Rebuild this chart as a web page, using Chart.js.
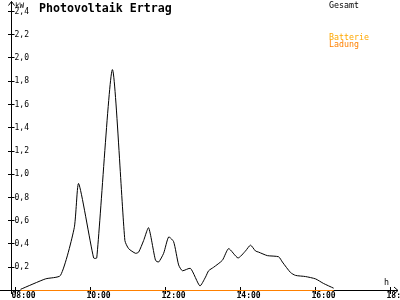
<!DOCTYPE html>
<html>
<head>
<meta charset="utf-8">
<script src="https://cdn.jsdelivr.net/npm/chart.js@4/dist/chart.umd.min.js"></script>
<style>
html,body{margin:0;padding:0;background:#fff;}
canvas{display:block;}
</style>
</head>
<body>
<canvas id="c" width="400" height="300"></canvas>
<script>
// ---- data ----
const titleText = 'Photovoltaik Ertrag';
const yUnit = 'kW';
const xUnit = 'h';
const gesamtTimes = ['08:08','08:48','09:12','09:34','09:41','10:05','10:10','10:35','10:55','11:01','11:12','11:17','11:25','11:33','11:44','11:49','11:57','12:05','12:13','12:21','12:27','12:40','12:55','13:04','13:09','13:17','13:31','13:41','13:56','14:08','14:16','14:24','14:29','14:43','15:01','15:07','15:20','15:28','15:44','16:00','16:13','16:29'];
const gesamtValues = [0.01,0.10,0.13,0.54,0.92,0.28,0.28,1.90,0.43,0.36,0.32,0.33,0.43,0.54,0.26,0.245,0.32,0.46,0.42,0.22,0.17,0.19,0.04,0.115,0.17,0.20,0.26,0.36,0.28,0.34,0.39,0.34,0.33,0.30,0.29,0.245,0.155,0.13,0.12,0.10,0.06,0.02];
const ladungTimes = ['08:08','16:29'];
const ladungValues = [0, 0];
const batterieTimes = [];
const batterieValues = [];
const xTickValues = [8, 10, 12, 14, 16, 18];
const xTickLabels = ['08:00','10:00','12:00','14:00','16:00','18:00'];
const yTickValues = [0.2,0.4,0.6,0.8,1.0,1.2,1.4,1.6,1.8,2.0,2.2,2.4];
const yTickLabels = ['0,2','0,4','0,6','0,8','1,0','1,2','1,4','1,6','1,8','2,0','2,2','2,4'];

function toHours(s){ const p = s.split(':'); return (+p[0]) + (+p[1])/60; }
function pts(times, vals){ return times.map((t,i)=>({x: toHours(t), y: vals[i]})); }

const MONO = 'DejaVu Sans Mono';

const framePlugin = {
  id: 'frame',
  beforeDatasetsDraw(chart){
    const {ctx, scales:{x, y}} = chart;
    const yb = Math.floor(y.getPixelForValue(0)) + 0.5;
    const xl = Math.floor(x.left) + 0.5;
    ctx.save();
    ctx.strokeStyle = '#000';
    ctx.lineWidth = 1;
    ctx.beginPath();
    ctx.moveTo(0, yb); ctx.lineTo(398, yb);
    ctx.moveTo(394, yb - 3.5); ctx.lineTo(398, yb); ctx.lineTo(394, yb + 3.5);
    ctx.moveTo(xl, 294); ctx.lineTo(xl, 1.5);
    ctx.moveTo(xl - 3, 5.5); ctx.lineTo(xl, 1.5); ctx.lineTo(xl + 3, 5.5);
    xTickValues.forEach(v => {
      const px = Math.floor(x.getPixelForValue(v)) + 0.5;
      ctx.moveTo(px, yb - 3.5); ctx.lineTo(px, yb + 3.5);
    });
    yTickValues.forEach(v => {
      const py = Math.floor(y.getPixelForValue(v)) + 0.5;
      ctx.moveTo(xl - 3.5, py); ctx.lineTo(xl + 3, py);
    });
    ctx.stroke();
    ctx.restore();
  },
  afterDraw(chart){
    const {ctx} = chart;
    ctx.save();
    ctx.textBaseline = 'alphabetic';
    ctx.textAlign = 'left';
    ctx.fillStyle = '#000';
    ctx.font = 'bold 11.6px "' + MONO + '"';
    ctx.fillText(titleText, 39, 12);
    ctx.font = '7.6px "' + MONO + '"';
    ctx.fillText(yUnit, 15, 8);
    ctx.font = '8.3px "' + MONO + '"';
    ctx.fillText(xUnit, 384, 285);
    const ys = [7.5, 39.5, 47];
    chart.data.datasets.forEach((ds, i) => {
      ctx.fillStyle = ds.borderColor;
      ctx.fillText(ds.label, 329, ys[i]);
    });
    ctx.restore();
  }
};

new Chart(document.getElementById('c'), {
  type: 'line',
  data: {
    datasets: [
      {label: 'Gesamt', data: pts(gesamtTimes, gesamtValues), borderColor: '#000000', borderWidth: 1, pointRadius: 0, tension: 0.2, clip: false},
      {label: 'Batterie', data: pts(batterieTimes, batterieValues), borderColor: '#FFA800', borderWidth: 1, pointRadius: 0, clip: false},
      {label: 'Ladung', data: pts(ladungTimes, ladungValues), borderColor: '#FF8000', borderWidth: 1, pointRadius: 0, clip: false}
    ]
  },
  options: {
    responsive: false,
    animation: false,
    layout: {padding: {top: 11.5, right: 1.5, left: 0, bottom: 0}},
    plugins: {legend: {display: false}, title: {display: false}, tooltip: {enabled: false}},
    scales: {
      x: {
        type: 'linear', min: 7.8933, max: 18.2133,
        grid: {display: false, drawTicks: false},
        border: {display: false},
        afterBuildTicks: s => { s.ticks = xTickValues.map(v => ({value: v})); },
        afterFit: s => { s.height = 9.5; s.paddingLeft = 0; s.paddingRight = 0; },
        ticks: {
          autoSkip: false, maxRotation: 0, minRotation: 0, align: 'start', labelOffset: -4, padding: 1,
          color: '#000', font: {family: MONO, size: 8, weight: 'bold'},
          callback: v => xTickLabels[xTickValues.indexOf(v)]
        }
      },
      y: {
        type: 'linear', min: 0, max: 2.4,
        grid: {display: false, drawTicks: false},
        border: {display: false},
        afterBuildTicks: s => { s.ticks = yTickValues.map(v => ({value: v})); },
        afterFit: s => { s.width = 11.5; s.paddingTop = 0; s.paddingBottom = 0; },
        ticks: {
          mirror: true, padding: 3, color: '#000', font: {family: MONO, size: 8},
          callback: v => yTickLabels[yTickValues.findIndex(t => Math.abs(t - v) < 1e-6)]
        }
      }
    }
  },
  plugins: [framePlugin]
});
</script>
</body>
</html>
